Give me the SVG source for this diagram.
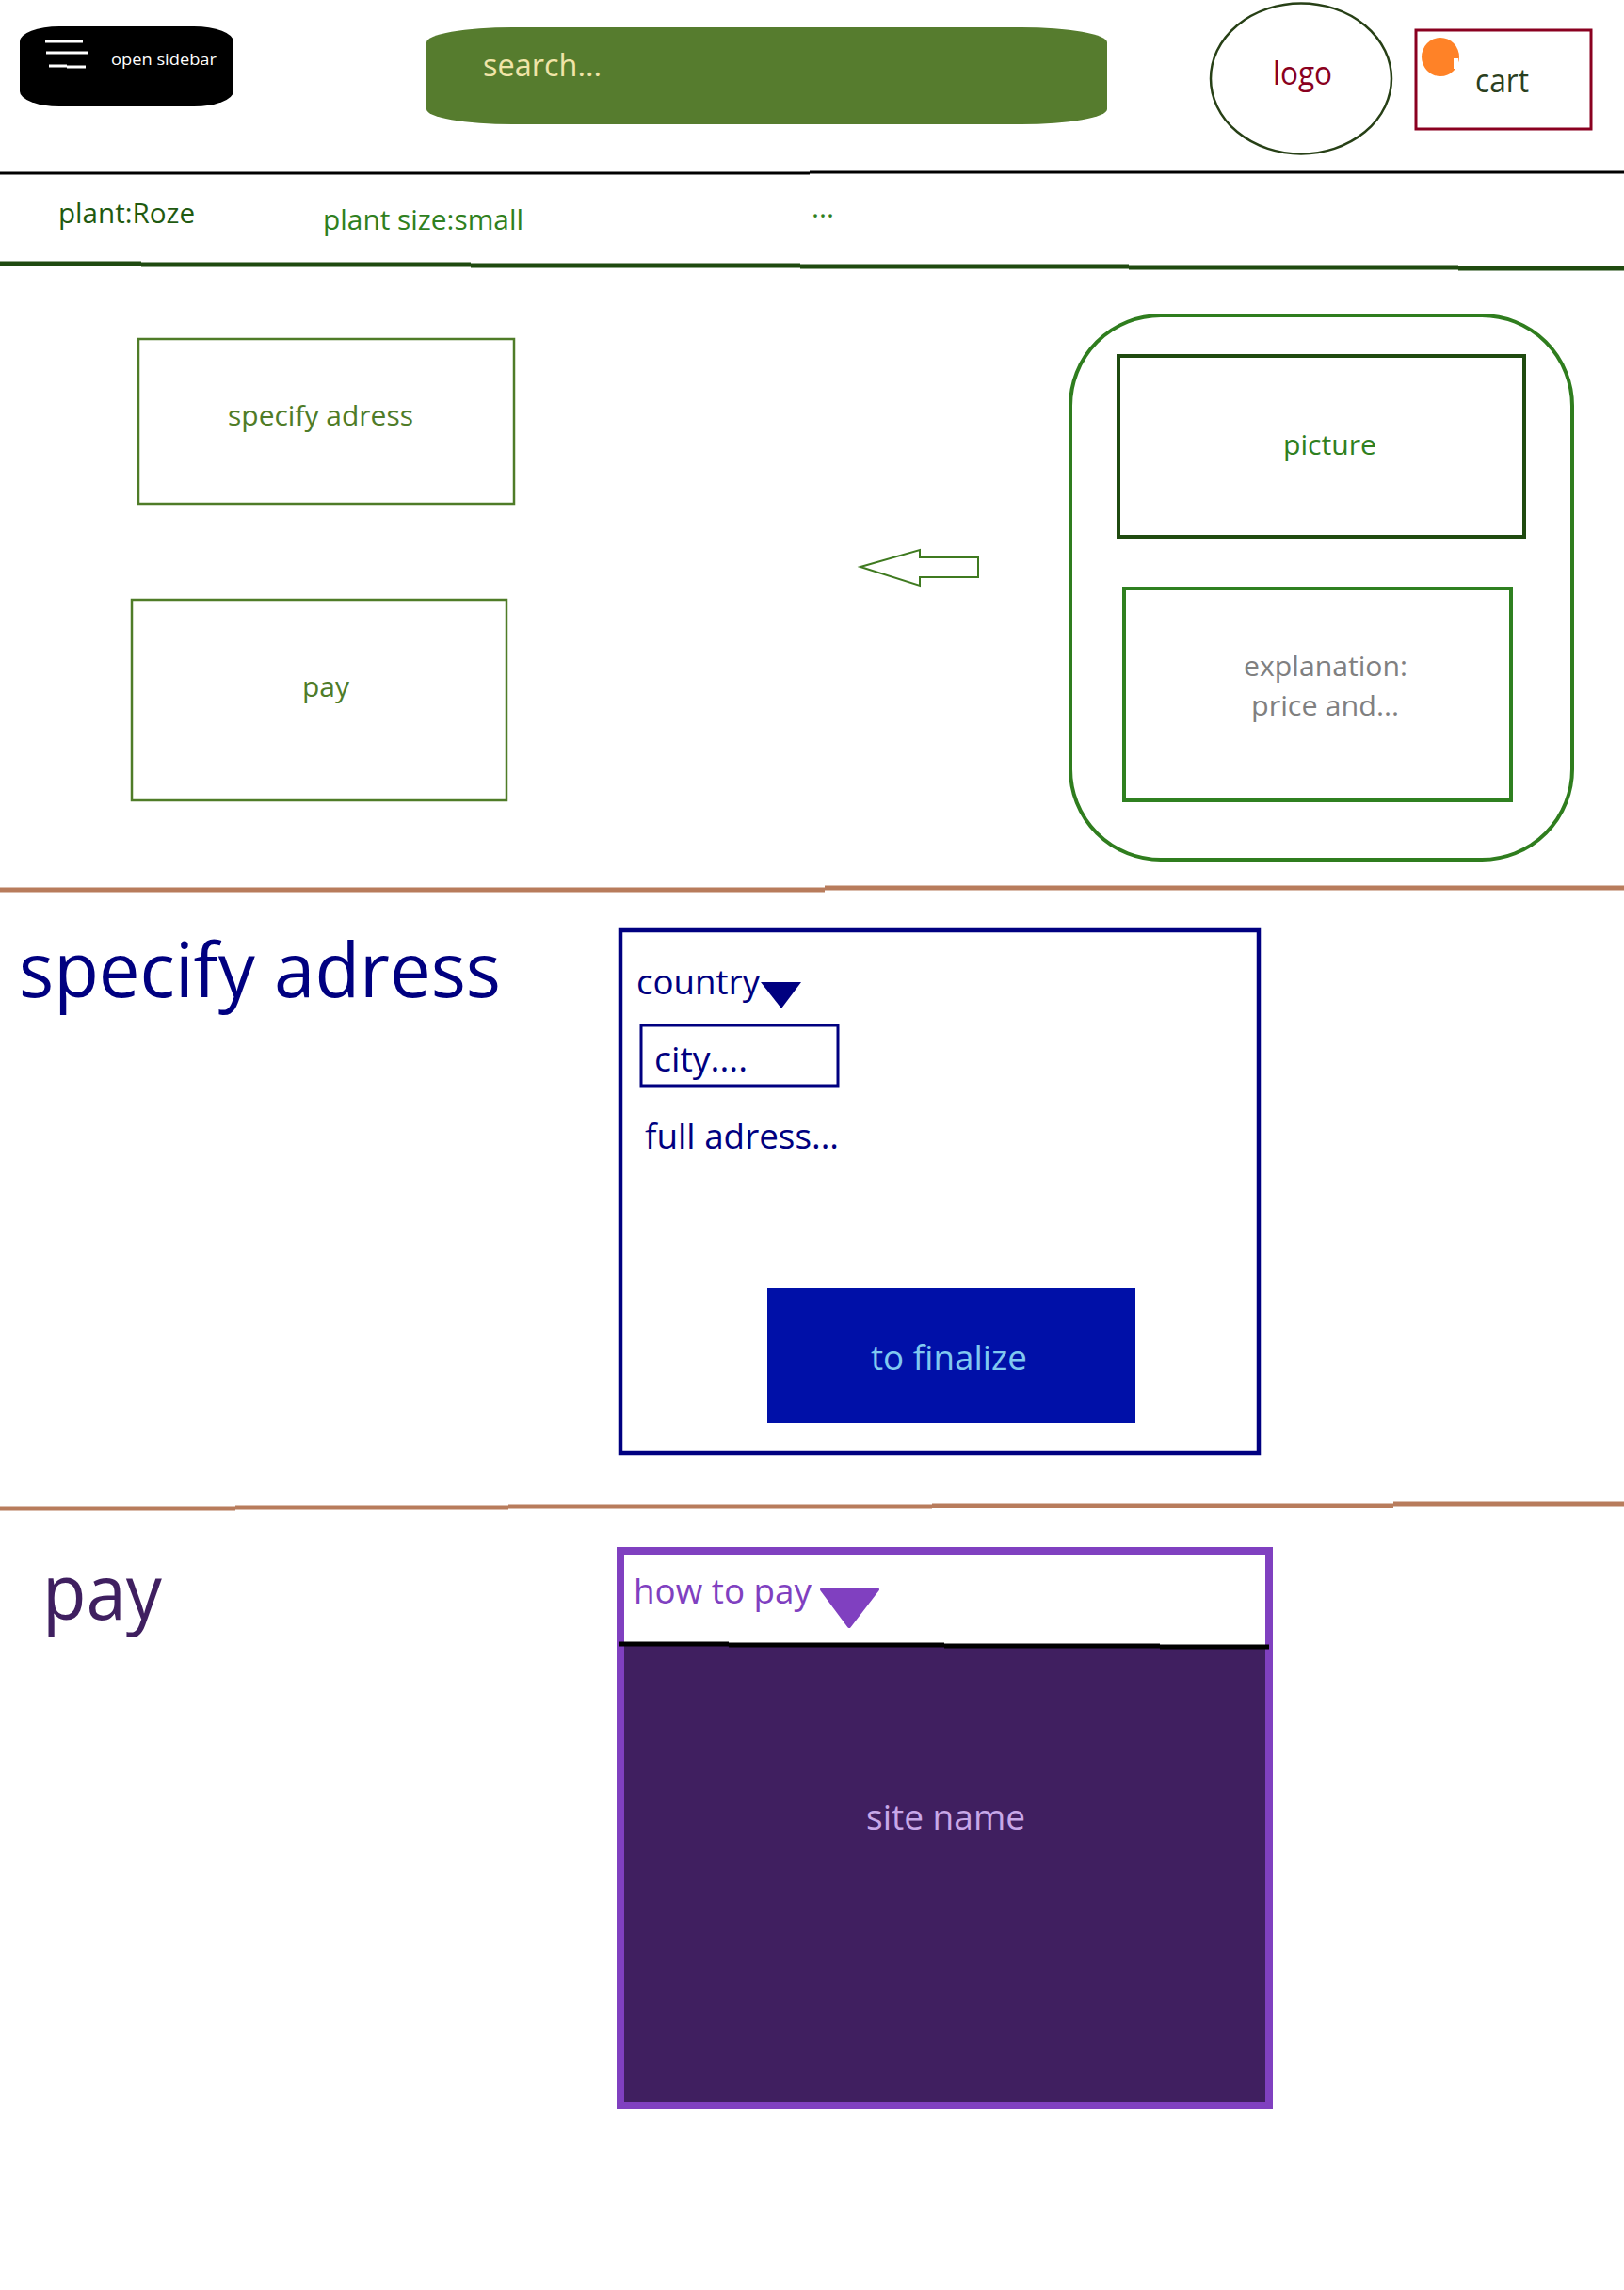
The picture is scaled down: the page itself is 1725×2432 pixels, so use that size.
<svg xmlns="http://www.w3.org/2000/svg" width="1725" height="2432" viewBox="0 0 1725 2432">
<style>
text{font-family:"Open Sans","Noto Sans","Liberation Sans",sans-serif}
.n{fill:none}
</style>
<rect width="1725" height="2432" fill="#fff"/>
<g id="connectors">
<path d="M0 184H860M860 183H1725" stroke="#000" stroke-width="3" fill="none"/>
<path d="M0 280H150M150 281H500M500 282H850M850 283H1199M1199 284H1549M1549 285H1725" stroke="#1f4a10" stroke-width="5" fill="none"/>
<path d="M0 945H876M876 943H1725" stroke="#b87c5c" stroke-width="5" fill="none"/>
<path d="M0 1602H250M250 1601H540M540 1600H990M990 1599H1480M1480 1597H1725" stroke="#b87c5c" stroke-width="5" fill="none"/>
<polygon points="914,602 977,584 977,592 1039,592 1039,613 977,613 977,622" fill="#fff" stroke="#3f7a20" stroke-width="2"/>
</g>
<g id="sidebar">
<rect x="21" y="28" width="227" height="85" rx="42" ry="16" fill="#000"/>
<path d="M48 44H88M49 56H93M52 70H71M71 71H91" stroke="#fff" stroke-width="3" fill="none"/>
<text x="118" y="69" font-size="17" fill="#fff" textLength="112" lengthAdjust="spacingAndGlyphs">open sidebar</text>
</g>
<g id="search">
<rect x="453" y="29" width="723" height="103" rx="91" ry="16" fill="#567c2e"/>
<text x="513" y="81" font-size="32" fill="#f0e4a8" textLength="126" lengthAdjust="spacingAndGlyphs">search...</text>
</g>
<g id="logo">
<ellipse cx="1382" cy="83.500" rx="96" ry="80" fill="#fff" stroke="#274016" stroke-width="2.500"/>
<text x="1352" y="90" font-size="34" fill="#8a0020" textLength="63" lengthAdjust="spacingAndGlyphs">logo</text>
</g>
<g id="cart">
<rect x="1504" y="32" width="186" height="105" fill="#fff" stroke="#8a0020" stroke-width="3"/>
<ellipse cx="1530" cy="60.500" rx="20" ry="20.500" fill="#ff8227"/>
<rect x="1544" y="62" width="5" height="11" fill="#fff"/>
<text x="1567" y="98" font-size="34" fill="#2a4020" textLength="57" lengthAdjust="spacingAndGlyphs">cart</text>
</g>
<g id="tab-plant">
<text x="62" y="237" font-size="30" fill="#1f5a10" textLength="145" lengthAdjust="spacingAndGlyphs">plant:Roze</text>
</g>
<g id="tab-size">
<text x="343" y="244" font-size="30" fill="#2f8020" textLength="213" lengthAdjust="spacingAndGlyphs">plant size:small</text>
</g>
<g id="tab-more">
<text x="862" y="231" font-size="30" fill="#2f8020" textLength="24" lengthAdjust="spacingAndGlyphs">...</text>
</g>
<g id="specify-button">
<rect x="147" y="360" width="399" height="175" fill="#fff" stroke="#4f7c28" stroke-width="2.500"/>
<text x="242" y="452" font-size="30" fill="#4f7c28" textLength="197" lengthAdjust="spacingAndGlyphs">specify adress</text>
</g>
<g id="pay-button">
<rect x="140" y="637" width="398" height="213" fill="#fff" stroke="#4f7c28" stroke-width="2.500"/>
<text x="321" y="740" font-size="30" fill="#4f7c28" textLength="50" lengthAdjust="spacingAndGlyphs">pay</text>
</g>
<g id="card">
<rect x="1137" y="335" width="533" height="578" rx="96" ry="96" fill="#fff" stroke="#2f7d1e" stroke-width="4"/>
</g>
<g id="picture">
<rect x="1188" y="378" width="431" height="192" fill="#fff" stroke="#1f4a10" stroke-width="4"/>
<text x="1363" y="483" font-size="30" fill="#2f8020" textLength="99" lengthAdjust="spacingAndGlyphs">picture</text>
</g>
<g id="explanation">
<rect x="1194" y="625" width="411" height="225" fill="#fff" stroke="#2f8020" stroke-width="4"/>
<text x="1321" y="718" font-size="30" fill="#808080" textLength="174" lengthAdjust="spacingAndGlyphs">explanation:</text>
<text x="1329" y="760" font-size="30" fill="#808080" textLength="157" lengthAdjust="spacingAndGlyphs">price and...</text>
</g>
<g id="address-title">
<text x="20" y="1059" font-size="80" fill="#000080" textLength="512" lengthAdjust="spacingAndGlyphs">specify adress</text>
</g>
<g id="address-form">
<rect x="659" y="988" width="678" height="555" fill="#fff" stroke="#000080" stroke-width="4.500"/>
<text x="676" y="1056" font-size="37" fill="#000080" textLength="131" lengthAdjust="spacingAndGlyphs">country</text>
<polygon points="808,1043 851,1043 830,1071" fill="#000080"/>
<rect x="681" y="1089" width="209" height="64" fill="#fff" stroke="#000080" stroke-width="3"/>
<text x="695" y="1138" font-size="37" fill="#000080" textLength="99" lengthAdjust="spacingAndGlyphs">city....</text>
<text x="685" y="1220" font-size="37" fill="#000080" textLength="206" lengthAdjust="spacingAndGlyphs">full adress...</text>
</g>
<g id="finalize">
<rect x="815" y="1368" width="391" height="143" fill="#0010a8"/>
<text x="925" y="1455" font-size="37" fill="#80c8f0" textLength="166" lengthAdjust="spacingAndGlyphs">to finalize</text>
</g>
<g id="pay-title">
<text x="45" y="1720" font-size="80" fill="#3f1f60" textLength="127" lengthAdjust="spacingAndGlyphs">pay</text>
</g>
<g id="pay-panel">
<rect x="659" y="1647" width="689" height="589" fill="#fff" stroke="#8040c0" stroke-width="8"/>
<rect x="663" y="1748" width="681" height="484" fill="#401f60"/>
<path d="M658 1746H774M774 1747H1003M1003 1748H1232M1232 1749H1348" stroke="#000" stroke-width="5" fill="none"/>
<text x="673" y="1703" font-size="37" fill="#8040c0" textLength="189" lengthAdjust="spacingAndGlyphs">how to pay</text>
<polygon points="873,1688 932,1688 902,1727" fill="#8040c0" stroke="#8040c0" stroke-width="4" stroke-linejoin="round"/>
<text x="920" y="1943" font-size="37" fill="#c8a8e8" textLength="169" lengthAdjust="spacingAndGlyphs">site name</text>
</g>
</svg>
